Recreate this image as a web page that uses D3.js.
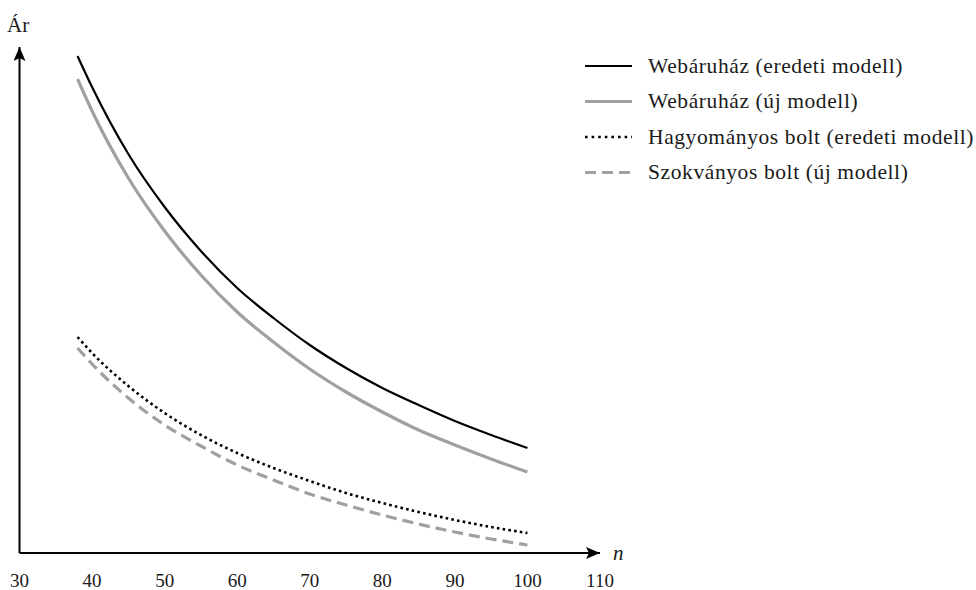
<!DOCTYPE html>
<html>
<head>
<meta charset="utf-8">
<script src="https://cdn.jsdelivr.net/npm/d3@7"></script>
<style>
    body { margin: 0; background: #fff; }
    text { font-family: "Liberation Serif", "DejaVu Serif", serif; fill: #1a1a1a; }
</style>
</head>
<body>
<div id="chart"></div>
<script>
var nValues = [38, 40, 45, 50, 55, 60, 65, 70, 75, 80, 85, 90, 95, 100];
var webOld = [497, 466, 399, 346, 302, 265, 235, 208, 185, 165, 148, 132, 118, 105];
var webNew = [474, 442, 375, 322, 278, 241, 211, 184, 161, 141, 123, 108, 94, 81];
var shopOld = [216, 200, 167, 140, 118, 100, 85, 72, 60, 50, 41, 33, 26, 20];
var shopNew = [205, 189, 155, 128, 107, 88, 73, 59, 48, 38, 29, 21, 14, 8];
var tickLabels = [30, 40, 50, 60, 70, 80, 90, 100, 110];
var seriesNames = ["Webáruház (eredeti modell)", "Webáruház (új modell)",
    "Hagyományos bolt (eredeti modell)", "Szokványos bolt (új modell)"];

function init() {
    var w = 976;
    var h = 590;

    var svg = d3.select("#chart")
        .append("svg")
        .attr("width", w)
        .attr("height", h);

    var xScale = d3.scaleLinear()
        .domain([30, 110])
        .range([19.5, 600]);

    var yScale = d3.scaleLinear()
        .domain([0, 500])
        .range([553, 53]);

    var styles = [
        { color: "#000", width: 2.2, dash: null, legendDash: null },
        { color: "#a0a0a0", width: 3.2, dash: null, legendDash: null },
        { color: "#000", width: 2.6, dash: "2.6,3.2", legendDash: "2.6,4" },
        { color: "#a0a0a0", width: 3.2, dash: "11,6", legendDash: "11,6" }
    ];
    var allSeries = [webOld, webNew, shopOld, shopNew];

    // arrow heads
    var defs = svg.append("defs");
    defs.append("marker")
        .attr("id", "arrow")
        .attr("viewBox", "0 0 14 12")
        .attr("refX", 14)
        .attr("refY", 6)
        .attr("markerWidth", 14)
        .attr("markerHeight", 12)
        .attr("markerUnits", "userSpaceOnUse")
        .attr("orient", "auto")
        .append("path")
        .attr("d", "M0,0 L14,6 L0,12 L3,6 Z")
        .attr("fill", "#000");

    // axes
    svg.append("line")
        .attr("x1", xScale(30)).attr("y1", yScale(0))
        .attr("x2", xScale(110)).attr("y2", yScale(0))
        .attr("stroke", "#000")
        .attr("stroke-width", 2)
        .attr("marker-end", "url(#arrow)");

    svg.append("line")
        .attr("x1", xScale(30)).attr("y1", yScale(0))
        .attr("x2", xScale(30)).attr("y2", 47)
        .attr("stroke", "#000")
        .attr("stroke-width", 2)
        .attr("marker-end", "url(#arrow)");

    svg.selectAll(".tick-label")
        .data(tickLabels)
        .enter()
        .append("text")
        .attr("class", "tick-label")
        .attr("x", function(d) { return xScale(d); })
        .attr("y", 587)
        .attr("text-anchor", "middle")
        .style("font-size", "19px")
        .text(function(d) { return d; });

    svg.append("text")
        .attr("x", 613)
        .attr("y", 560)
        .style("font-size", "21px")
        .style("font-style", "italic")
        .text("n");

    svg.append("text")
        .attr("x", 7)
        .attr("y", 32)
        .style("font-size", "21px")
        .text("Ár");

    // curves
    var line = d3.line()
        .x(function(d, i) { return xScale(nValues[i]); })
        .y(function(d) { return yScale(d); })
        .curve(d3.curveMonotoneX);

    svg.selectAll(".curve")
        .data(allSeries)
        .enter()
        .append("path")
        .attr("class", "curve")
        .attr("d", function(d) { return line(d); })
        .attr("fill", "none")
        .attr("stroke", function(d, i) { return styles[i].color; })
        .attr("stroke-width", function(d, i) { return styles[i].width; })
        .attr("stroke-dasharray", function(d, i) { return styles[i].dash; });

    // legend
    var legend = svg.selectAll(".legend")
        .data(seriesNames)
        .enter()
        .append("g")
        .attr("class", "legend")
        .attr("transform", function(d, i) {
            return "translate(585," + (66 + i * 35.5) + ")";
        });

    legend.append("line")
        .attr("x1", 0).attr("x2", 47)
        .attr("y1", 0).attr("y2", 0)
        .attr("stroke", function(d, i) { return styles[i].color; })
        .attr("stroke-width", function(d, i) { return styles[i].width; })
        .attr("stroke-dasharray", function(d, i) { return styles[i].legendDash; });

    legend.append("text")
        .attr("x", 63)
        .attr("y", 6.5)
        .style("font-size", "21.5px")
        .style("letter-spacing", "0.6px")
        .text(function(d) { return d; });
}

window.onload = init;
</script>
</body>
</html>
